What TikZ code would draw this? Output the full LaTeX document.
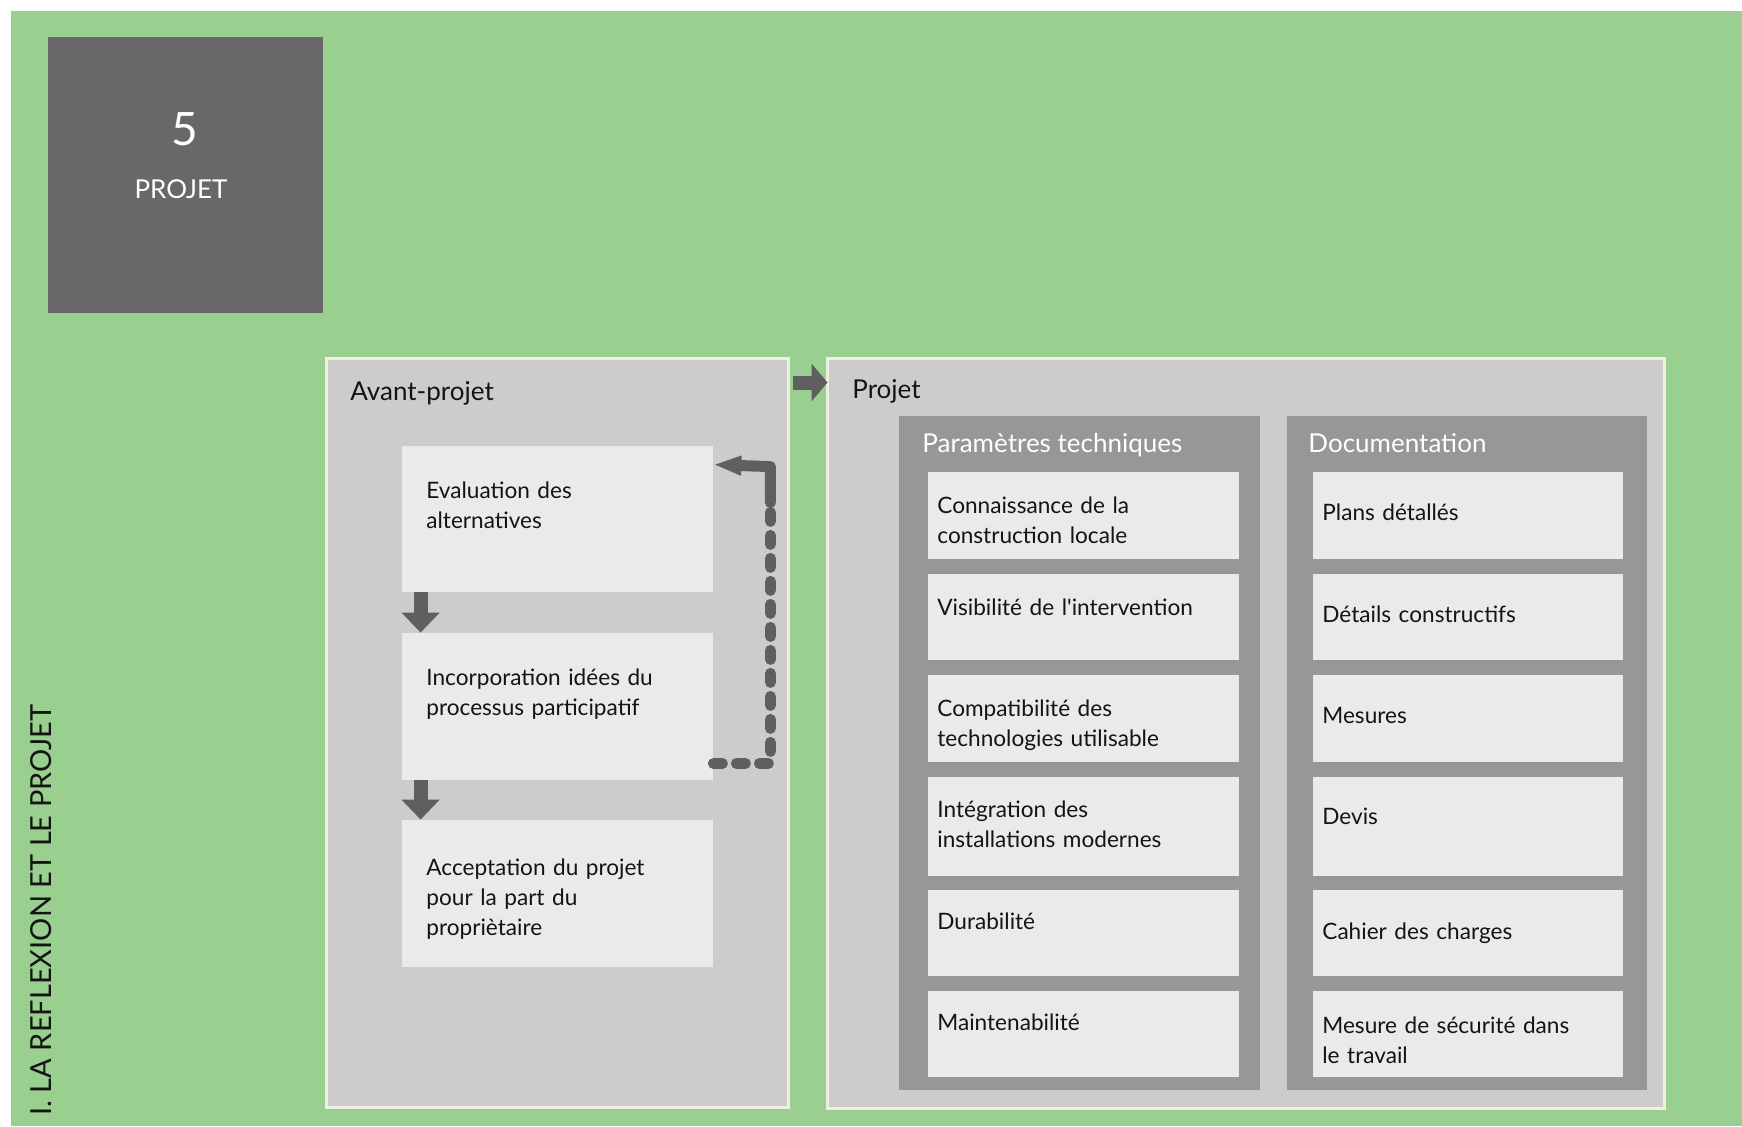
\documentclass[tikz,border=0pt]{standalone}
\usepackage{fontspec}
\setmainfont{Lato}
\usetikzlibrary{arrows.meta,fit,calc}
\definecolor{bggreen}{HTML}{99CF8F}
\definecolor{darkbox}{HTML}{686868}
\definecolor{panelgray}{HTML}{CDCCCA}
\definecolor{panelborder}{HTML}{F1EFE4}
\definecolor{groupgray}{HTML}{979797}
\definecolor{itemgray}{HTML}{E9EAEA}
\definecolor{arrowgray}{HTML}{5F5F5F}
\definecolor{textcol}{HTML}{141414}
\tikzset{
  numbox/.style={fill=darkbox, inner sep=0pt},
  panel/.style={fill=panelgray, draw=panelborder, line width=1.5pt, inner sep=0pt},
  group/.style={fill=groupgray, inner sep=0pt},
  item/.style={fill=itemgray, inner sep=0pt},
  txt/.style={font=\fontsize{11.3}{15}\selectfont, text=textcol, anchor=base west, inner sep=0pt, align=left, text width=150pt},
  ptitle/.style={font=\fontsize{13}{15}\selectfont, text=textcol, anchor=base west, inner sep=0pt},
  gtitle/.style={font=\fontsize{13}{15}\selectfont, text=white, anchor=base west, inner sep=0pt},
  blockarr/.style={draw=arrowgray, line width=7pt, -{Triangle[length=10pt,width=18.5pt]}},
  fbdash/.style={draw=arrowgray, line width=5.5pt, line cap=round, line join=round, dash pattern=on 4.5pt off 7pt},
  fbsolid/.style={draw=arrowgray, line width=5.5pt, line cap=round, line join=round, -{Triangle[length=14pt,width=9pt]}}
}
\begin{document}
\begin{tikzpicture}[x=0.5pt,y=-0.5pt]
\useasboundingbox (0,0) rectangle (1742,1126);
\fill[white] (0,0) rectangle (1742,1126);
\fill[bggreen] (11,11) rectangle (1742,1126);

% number box
\node[numbox, fit={(48,37)(323,313)}] (nb) {};
\node[font=\fontsize{23}{26}\selectfont, text=white, anchor=base, inner sep=0pt] (nbnum) at (185,145) {5};
\node[font=\fontsize{13}{15}\selectfont, text=white, anchor=base, inner sep=0pt] (nbtxt) at (181,198) {PROJET};

% vertical title
\node[font=\fontsize{14.5}{17}\selectfont, text=textcol, rotate=90, anchor=base east, inner sep=0pt] (vtitle) at (51,704) {I. LA REFLEXION ET LE PROJET};

% panels
\node[panel, fit={(326,358)(788,1107)}] (avant) {};
\node[panel, fit={(827,358)(1664,1108)}] (projet) {};
\node[ptitle] (avanttitle) at (350,400) {Avant-projet};
\node[ptitle] (projettitle) at (852,398) {Projet};

% avant-projet items
\node[item, fit={(402,446)(713,592)}] (a1) {};
\node[item, fit={(402,633)(713,780)}] (a2) {};
\node[item, fit={(402,820)(713,967)}] (a3) {};
\node[txt] (a1t) at (426,498) {Evaluation des\\alternatives};
\node[txt] (a2t) at (426,685) {Incorporation idées du\\processus participatif};
\node[txt] (a3t) at (426,875) {Acceptation du projet\\pour la part du\\propriètaire};

\draw[blockarr] ($(a1.south west)+(19,0)$) -- ($(a2.north west)+(19,0)$);
\draw[blockarr] ($(a2.south west)+(19,0)$) -- ($(a3.north west)+(19,0)$);

% feedback connector
\coordinate (fbc1) at ($(a2.south east)+(57,-17)$);
\coordinate (fbc2) at ($(a1.north east)+(57,21)$);
\draw[fbdash] ($(a2.south east)+(0,-17)$) -- (fbc1) -- ($(fbc2)+(0,36)$);
\draw[fbsolid] ($(fbc2)+(0,36)$) -- (fbc2) -- ($(a1.north east)+(0,19)$);

% panel arrow
\draw[blockarr, -{Triangle[length=8pt,width=18.5pt]}] ($(avant.north east)+(3,26)$) -- ($(projet.north west)+(2,26)$);

% groups
\node[group, fit={(899,416)(1260,1090)}] (param) {};
\node[group, fit={(1287,416)(1647,1090)}] (doc) {};
\node[gtitle] (paramtitle) at (922,452) {Paramètres techniques};
\node[gtitle] (doctitle) at (1308,452) {Documentation};

% parametres items
\node[item, fit={(928,472)(1239,559)}] (p1) {};
\node[item, fit={(928,574)(1239,660)}] (p2) {};
\node[item, fit={(928,675)(1239,762)}] (p3) {};
\node[item, fit={(928,777)(1239,876)}] (p4) {};
\node[item, fit={(928,890)(1239,976)}] (p5) {};
\node[item, fit={(928,991)(1239,1077)}] (p6) {};
\node[txt] (p1t) at (937,513) {Connaissance de la\\construction locale};
\node[txt] (p2t) at (937,615) {Visibilité de l\textquotesingle intervention};
\node[txt] (p3t) at (937,716) {Compatibilité des\\technologies utilisable};
\node[txt] (p4t) at (937,817) {Intégration des\\installations modernes};
\node[txt] (p5t) at (937,929) {Durabilité};
\node[txt] (p6t) at (937,1030) {Maintenabilité};

% documentation items
\node[item, fit={(1313,472)(1623,559)}] (d1) {};
\node[item, fit={(1313,574)(1623,660)}] (d2) {};
\node[item, fit={(1313,675)(1623,762)}] (d3) {};
\node[item, fit={(1313,777)(1623,876)}] (d4) {};
\node[item, fit={(1313,890)(1623,976)}] (d5) {};
\node[item, fit={(1313,991)(1623,1077)}] (d6) {};
\node[txt] (d1t) at (1322,520) {Plans détallés};
\node[txt] (d2t) at (1322,622) {Détails constructifs};
\node[txt] (d3t) at (1322,723) {Mesures};
\node[txt] (d4t) at (1322,824) {Devis};
\node[txt] (d5t) at (1322,939) {Cahier des charges};
\node[txt] (d6t) at (1322,1033) {Mesure de sécurité dans\\le travail};
\end{tikzpicture}
\end{document}
